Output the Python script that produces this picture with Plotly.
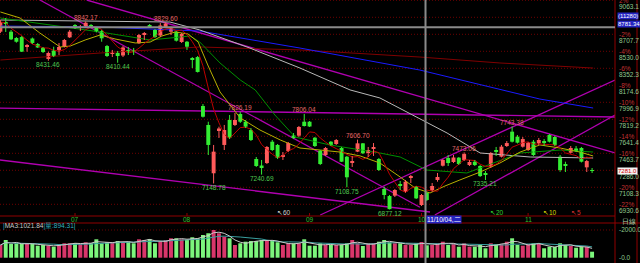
import plotly.graph_objects as go
import pandas as pd

W, H = 640, 263

# ---------------- data (TAIEX daily, Jun-Nov 2011) -------------
opens = [8735, 8836, 8735, 8669, 8679, 8575, 8664, 8606, 8565, 8450,
         8538, 8544, 8578, 8676, 8800, 8774, 8787, 8805, 8774, 8742,
         8585, 8502, 8512, 8486, 8544, 8544, 8614, 8706, 8805, 8753,
         8695, 8781, 8735, 8735, 8627, 8630, 8455, 8470, 7958, 7760,
         7255, 7707, 7551, 7812, 7760, 7875, 7794, 7707, 7404, 7336,
         7362, 7585, 7551, 7425, 7488, 7650, 7648, 7794, 7794, 7627,
         7491, 7446, 7585, 7561, 7519, 7428, 7368, 7481, 7568, 7467,
         7509, 7404, 7091, 7017, 7021, 7143, 7062, 7206, 7115, 6923,
         7052, 7080, 7185, 7334, 7415, 7373, 7418, 7394, 7341, 7376,
         7331, 7258, 7324, 7498, 7428, 7540, 7690, 7637, 7533, 7498,
         7585, 7568, 7592, 7655, 7634, 7428, 7352, 7470, 7514, 7519,
         7317, 7289]
highs = [8857, 8878, 8753, 8679, 8690, 8606, 8674, 8617, 8575, 8526,
         8578, 8617, 8659, 8753, 8815, 8805, 8842.17, 8815, 8784, 8753,
         8596, 8544, 8533, 8585, 8575, 8565, 8711, 8732, 8815, 8763,
         8826, 8829.60, 8789, 8742, 8721, 8638, 8470, 8481, 7979, 7794,
         7551, 7742, 7760, 7864, 7885, 7896, 7812, 7728, 7425, 7394,
         7540, 7603, 7561, 7477, 7582, 7676, 7749, 7875, 7801, 7634,
         7498, 7530, 7592, 7613, 7530, 7436, 7436, 7606.70, 7571, 7530,
         7571, 7415, 7115, 7028, 7091, 7174, 7185, 7237, 7122, 7038,
         7059, 7153, 7258, 7404, 7446, 7446, 7425, 7473.06, 7394, 7394,
         7341, 7279, 7477, 7530, 7551, 7592, 7743.38, 7655, 7634, 7582,
         7603, 7624, 7613, 7666, 7645, 7446, 7376, 7540, 7540, 7530,
         7394, 7310]
lows = [8721, 8732, 8648, 8620, 8523, 8526, 8606, 8565, 8512, 8431.46,
        8470, 8491, 8570, 8669, 8763, 8742, 8779, 8774, 8727, 8630,
        8470, 8470, 8410.44, 8470, 8491, 8491, 8606, 8648, 8774, 8669,
        8679, 8774, 8700, 8632, 8617, 8544, 8355, 8308, 7838, 7446,
        7148.78, 7624, 7498, 7613, 7749, 7781, 7728, 7592, 7321, 7240.69,
        7352, 7488, 7404, 7394, 7477, 7613, 7634, 7744, 7739, 7530,
        7341, 7436, 7540, 7551, 7373, 7108.75, 7321, 7477, 7456, 7425,
        7436, 7279, 6983, 6877.12, 7007, 7080, 7052, 7153, 6986, 6913,
        6965, 7062, 7167, 7326, 7331, 7362, 7341, 7383, 7331, 7331,
        7216, 7185, 7310, 7436, 7420, 7530, 7577, 7566, 7524, 7488,
        7436, 7551, 7540, 7577, 7540, 7271, 7268, 7462, 7477, 7368,
        7268, 7258]
closes = [8836, 8821, 8655, 8630, 8526, 8596, 8617, 8570, 8523, 8512,
          8481, 8575, 8648, 8735, 8784, 8784, 8829, 8784, 8735, 8666,
          8481, 8512, 8481, 8570, 8528, 8533, 8700, 8721, 8789, 8679,
          8800, 8821, 8781, 8641, 8711, 8578, 8439, 8314, 7846, 7551,
          7481, 7723, 7707, 7627, 7812, 7794, 7742, 7603, 7331, 7310,
          7530, 7498, 7415, 7446, 7571, 7634, 7739, 7749, 7744, 7540,
          7352, 7519, 7551, 7603, 7376, 7213, 7383, 7568, 7464, 7498,
          7530, 7289, 7028, 6880, 7080, 7132, 7167, 7226, 6993, 7028,
          6976, 7122, 7216, 7394, 7362, 7420, 7352, 7456, 7373, 7341,
          7226, 7237, 7467, 7483, 7533, 7571, 7585, 7575, 7613, 7571,
          7446, 7603, 7571, 7585, 7551, 7289, 7341, 7519, 7498, 7376,
          7383, 7281.0]
volumes = [917, 1278, 989, 1040, 989, 1040, 989, 866, 917, 866,
           794, 989, 1040, 1040, 1040, 989, 1112, 1040, 1328, 1040,
           1112, 1112, 1206, 1112, 1155, 1040, 1328, 1278, 1350, 1040,
           1206, 1278, 1401, 1401, 1328, 1278, 1473, 1401, 1639, 1762,
           2000, 1762, 1516, 1401, 917, 1040, 1155, 1206, 1206, 1278,
           1206, 1278, 1112, 917, 1040, 1040, 1040, 1328, 866, 866,
           1040, 917, 917, 917, 917, 1040, 1278, 1040, 845, 1040,
           1040, 1155, 1278, 1112, 1040, 1040, 917, 917, 1040, 1131,
           894.31, 917, 1040, 1155, 917, 1040, 794, 1040, 794, 794,
           917, 679, 1040, 967, 967, 1155, 1401, 917, 866, 967,
           1040, 1040, 679, 794, 794, 1040, 917, 845, 722, 794,
           794, 433]

month_idx = [14, 35, 58, 79, 99]
month_lbl = ["07", "08", "09", "10", "11"]

# moving-average lines (index, value)
ma10_x = [0, 3.7, 7.4, 11.2, 13.1, 15.9, 18.7, 21.5, 25.3, 28.1, 30.3, 32.8, 35.2, 37.1,
          38.9, 41.2, 45.0, 48.7, 52.5, 56.2, 60.0, 63.7, 67.5, 71.2, 75.0, 77.8, 80.6,
          83.4, 86.2, 90.0, 93.7, 97.5, 101.2, 105.0, 108.7, 111.2]
ma10_v = [8941, 8878, 8721, 8575, 8585, 8648, 8700, 8659, 8617, 8627, 8690, 8732, 8711, 8627,
          8387, 8105, 7833, 7707, 7603, 7519, 7498, 7477, 7436, 7362, 7216, 7101, 7049,
          7122, 7185, 7268, 7362, 7477, 7551, 7519, 7477, 7436]
ma20_x = [0, 9.3, 18.7, 28.1, 32.4, 35.6, 37.4, 41.2, 45.0, 47.8, 51.5, 55.3, 61.8,
          71.2, 75.0, 80.0, 87.5, 97.5, 105.0, 111.2]
ma20_v = [8878, 8805, 8732, 8648, 8669, 8690, 8627, 8408, 8230, 8126, 7864, 7634, 7551,
          7467, 7425, 7289, 7258, 7467, 7498, 7477]
ma60_x = [0, 18.7, 31.8, 37.4, 46.8, 56.2, 65.6, 71.2, 77.4, 83.8, 90.0, 99.4, 111.2]
ma60_v = [8857, 8847, 8836, 8753, 8564, 8355, 8126, 8042, 7864, 7676, 7467, 7425, 7415]
ma120_x = [0, 18.7, 37.4, 56.2, 78.7, 101.2, 111.2]
ma120_v = [8794, 8784, 8742, 8564, 8334, 8031, 7937]
ma240_x = [0, 18.7, 37.4, 56.2, 78.7, 93.7, 111.2]
ma240_v = [8439, 8512, 8575, 8544, 8470, 8408, 8355]

# hand-drawn trend lines: (x0, y0, x1, y1) in (index, price)
trend_lines = [
    (7.4, 9066, 78.7, 6900),
    (16.2, 9066, 115.3, 7467),
    (-0.1, 7937, 115.3, 7843),
    (-0.1, 7394, 80.6, 6850),
    (60.0, 6819, 115.3, 8230),
    (81.5, 6819, 115.3, 7864),
]

# high / low marks
mark_high = [(16, "8842.17"), (31, "8829.60"), (45, "7826.19"), (57, "7806.04"),
             (67, "7606.70"), (87, "7473.06"), (96, "7743.38")]
mark_low = [(9, "8431.46"), (22, "8410.44"), (40, "7148.78"), (49, "7240.69"),
            (65, "7108.75"), (73, "6877.12"), (91, "7335.21")]

base_price = 8885.4
grid_pcts = [2, 0, -2, -4, -6, -8, -10, -12, -14, -16, -18, -20, -22]
hidden_pcts = [0, -18]          # covered by the cursor / last-price boxes
vol_ticks = [2000.0, 0.0]

cross_idx = 79.75
cross_price = 8781.34
cross_date = "11/10/04,二"
cross_vol_label = "(11280)"

# ---------------- geometry ----------------
PLOT_R = 615 / W
XR = [-0.075, 115.3]
YR = [6808.4, 9066.2]
VR = [-383, 2505]
main_dom = [1 - 216 / H, 1]
vol_dom = [0, 1 - 223 / H]

RED = "#ff5a5a"
GRN = "#33ee33"
VRED = "#d8366a"
VGRN = "#7cf57c"
FONT = "Liberation Sans"
FS = 6.5

fig = go.Figure()

n = len(closes)
xs = list(range(n))
is_up = [closes[i] >= opens[i] for i in xs]

# gridlines
for p in grid_pcts:
    lvl = base_price * (1 + p / 100)
    fig.add_shape(type="line", xref="paper", x0=0, x1=PLOT_R, yref="y", y0=lvl, y1=lvl,
                  line=dict(color="#6e0000", width=1, dash="1px,2px"), layer="below")
fig.add_shape(type="line", xref="paper", x0=0, x1=PLOT_R, yref="y2", y0=2000, y1=2000,
              line=dict(color="#6e0000", width=1, dash="1px,2px"), layer="below")

# trend lines
for (a, b, c, d) in trend_lines:
    fig.add_shape(type="line", xref="x", yref="y", x0=a, y0=b, x1=c, y1=d,
                  line=dict(color="#b000b0", width=1.3), layer="below")

# slow MAs
for xv, yv, col in [(ma240_x, ma240_v, "#800000"), (ma120_x, ma120_v, "#1a1aff"),
                    (ma60_x, ma60_v, "#b8b8b8"), (ma20_x, ma20_v, "#009000"),
                    (ma10_x, ma10_v, "#b8b000")]:
    fig.add_trace(go.Scatter(x=xv, y=yv, mode="lines", line=dict(color=col, width=1),
                             hoverinfo="skip"))
ma5 = pd.Series(closes).rolling(5, min_periods=1).mean()
fig.add_trace(go.Scatter(x=xs, y=ma5, mode="lines", line=dict(color="#c00000", width=1),
                         hoverinfo="skip"))

# candles
for flag, col in [(True, RED), (False, GRN)]:
    ids = [i for i in xs if is_up[i] == flag]
    wx, wy = [], []
    for i in ids:
        wx += [i, i, None]
        wy += [lows[i], highs[i], None]
    fig.add_trace(go.Scatter(x=wx, y=wy, mode="lines", line=dict(color=col, width=1),
                             hoverinfo="skip"))
    fig.add_trace(go.Bar(x=ids, y=[max(abs(closes[i] - opens[i]), 7) for i in ids],
                         base=[min(opens[i], closes[i]) for i in ids], width=0.74,
                         marker=dict(color=col, line=dict(width=0)), hoverinfo="skip"))

# volume
fig.add_trace(go.Bar(x=xs, y=volumes, yaxis="y2", width=0.74,
                     marker=dict(color=[VRED if u else VGRN for u in is_up], line=dict(width=0)),
                     hoverinfo="skip"))
vs = pd.Series(volumes)
fig.add_trace(go.Scatter(x=xs, y=vs.rolling(10, min_periods=1).mean(), yaxis="y2", mode="lines",
                         line=dict(color="#3aa0a0", width=1), hoverinfo="skip"))
fig.add_trace(go.Scatter(x=xs, y=vs.rolling(3, min_periods=1).mean(), yaxis="y2", mode="lines",
                         line=dict(color="#c8c8c8", width=1), hoverinfo="skip"))

# frame lines
fig.add_shape(type="line", xref="paper", yref="paper", x0=0, x1=PLOT_R, y0=1 - 216 / H, y1=1 - 216 / H,
              line=dict(color="#900000", width=1))
fig.add_shape(type="line", xref="paper", yref="paper", x0=0, x1=1, y0=1 - 223 / H, y1=1 - 223 / H,
              line=dict(color="#900000", width=1))
fig.add_shape(type="line", xref="paper", yref="paper", x0=PLOT_R, x1=PLOT_R, y0=0, y1=1,
              line=dict(color="#900000", width=1))
fig.add_shape(type="line", xref="paper", yref="paper", x0=637 / W, x1=637 / W, y0=0, y1=1,
              line=dict(color="#900000", width=1))
for mi in month_idx:
    fig.add_shape(type="line", xref="x", yref="paper", x0=mi, x1=mi, y0=1 - 216 / H, y1=1 - 213 / H,
                  line=dict(color="#900000", width=1))

# crosshair
fig.add_shape(type="line", xref="x", yref="paper", x0=cross_idx, x1=cross_idx, y0=0, y1=1,
              line=dict(color="#8a8a8a", width=2))
fig.add_shape(type="line", xref="paper", yref="y", x0=0, x1=PLOT_R, y0=cross_price, y1=cross_price,
              line=dict(color="#8a8a8a", width=2))

ann = []
def A(**k):
    d = dict(showarrow=False, font=dict(family=FONT, size=FS, color="#ccc"))
    d.update(k)
    ann.append(d)

# right axis labels
for p in grid_pcts:
    lvl = base_price * (1 + p / 100)
    if p not in hidden_pcts:
        A(xref="paper", x=616.5 / W, xanchor="left", yref="y", y=lvl, yanchor="middle",
          text=f"-{abs(p)}%" if p < 0 else f"{p}%", font=dict(family=FONT, size=FS, color="#c03030"))
    if p != 0:
        A(xref="paper", x=616.5 / W, xanchor="left", yref="y", y=lvl, yshift=-6.5, yanchor="middle",
          text=f"{lvl:.1f}", font=dict(family=FONT, size=FS, color="#8fc88f"))
A(xref="paper", x=616.5 / W, xanchor="left", yref="paper", y=1 - 15.5 / H, yanchor="middle",
  text=cross_vol_label, bgcolor="#2424c0", font=dict(family=FONT, size=6, color="white"), borderpad=0)
A(xref="paper", x=616.5 / W, xanchor="left", yref="y", y=cross_price, yshift=3, yanchor="middle",
  text=f"{cross_price:.2f}", bgcolor="#2424c0", font=dict(family=FONT, size=6, color="white"), borderpad=0)
A(xref="paper", x=616.5 / W, xanchor="left", yref="y", y=closes[-1], yanchor="middle",
  text=f"{closes[-1]:.1f}", bgcolor="#f4f4f4", font=dict(family=FONT, size=6, color="#d00000"), borderpad=0)
A(xref="paper", x=620 / W, xanchor="left", yref="paper", y=1 - 221 / H, yanchor="middle",
  text="日線", font=dict(family=FONT, size=FS, color="#b0d8b0"))
for v in vol_ticks:
    A(xref="paper", x=616.5 / W, xanchor="left", yref="y2", y=v, yanchor="middle",
      text=f"-{v:.1f}", font=dict(family=FONT, size=FS, color="#8fc88f"))

# month labels
for mi, ml in zip(month_idx, month_lbl):
    A(xref="x", x=mi, xanchor="center", yref="paper", y=1 - 219.5 / H, yanchor="middle",
      text=ml, font=dict(family=FONT, size=FS, color="#30c030"))
A(xref="x", x=cross_idx, xanchor="left", yref="paper", y=1 - 219.5 / H, yanchor="middle",
  text=cross_date, bgcolor="#2424c0", font=dict(family=FONT, size=FS, color="white"), borderpad=0)

# high/low marks
for i, t in mark_high:
    A(xref="x", x=i, yref="y", y=highs[i], yshift=4, yanchor="middle", text=t,
      font=dict(family=FONT, size=FS, color="#e06a6a"))
for i, t in mark_low:
    A(xref="x", x=i, yref="y", y=lows[i], yshift=-4, yanchor="middle", text=t,
      font=dict(family=FONT, size=FS, color="#50c850"))

# MA tags
for xi, t, c in [(53.2, "↖60", "#d0d0d0"), (93.2, "↖20", "#30d030"),
                 (103.1, "↖10", "#d8d800"), (108.0, "↖5", "#d83030")]:
    A(xref="x", x=xi, yref="paper", y=1 - 212 / H, yanchor="middle", text=t,
      font=dict(family=FONT, size=FS, color=c))

# volume legend
A(xref="paper", x=1 / W, xanchor="left", yref="paper", y=1 - 225.5 / H, yanchor="middle",
  text="<span style='color:#30b0c0'>|</span>MA3:1021.84<span style='color:#30b0c0'>|量:894.31|</span>",
  font=dict(family=FONT, size=FS, color="#c8c8c8"))

fig.update_layout(
    width=W, height=H, margin=dict(l=0, r=0, t=0, b=0),
    paper_bgcolor="black", plot_bgcolor="black", showlegend=False, barmode="overlay",
    xaxis=dict(range=XR, domain=[0, PLOT_R], visible=False, fixedrange=True),
    yaxis=dict(range=YR, domain=main_dom, visible=False, fixedrange=True),
    yaxis2=dict(range=VR, domain=vol_dom, visible=False, anchor="x", fixedrange=True),
    annotations=ann,
)
fig.write_html("out.html")
